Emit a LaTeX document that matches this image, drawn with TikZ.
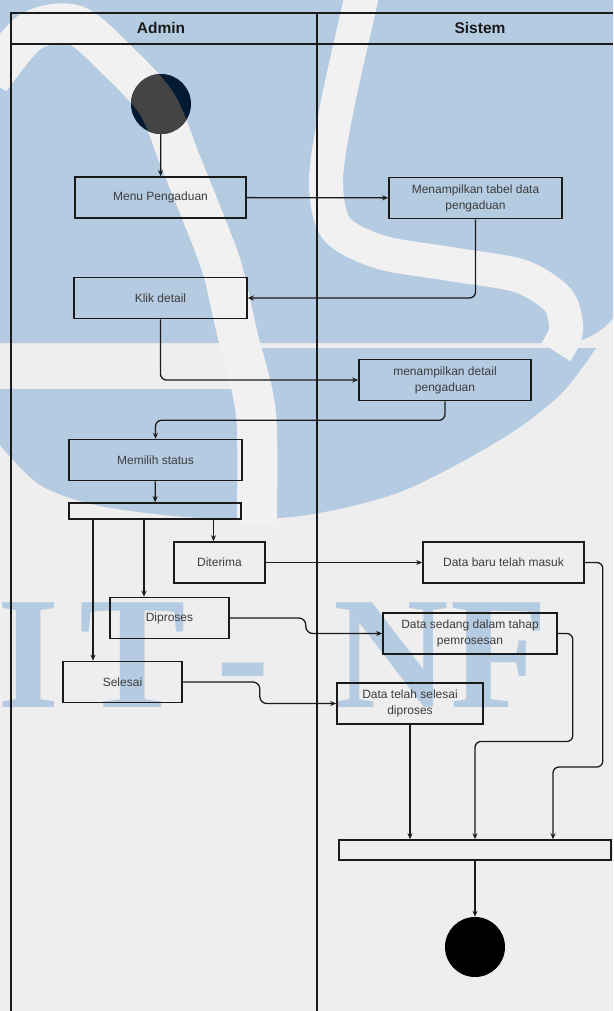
\documentclass[tikz,border=0pt]{standalone}
\usepackage{fontspec}
\setmainfont{Liberation Sans}
\newfontfamily\wmfont{Liberation Serif}
\usetikzlibrary{arrows.meta}
\definecolor{pagebg}{RGB}{238,238,238}
\definecolor{wmblue}{RGB}{181,203,225}
\definecolor{wmwhite}{RGB}{241,241,241}
\definecolor{ink}{RGB}{26,26,26}
\definecolor{navy}{RGB}{2,26,50}
\definecolor{dimgray}{RGB}{68,68,68}
\begin{document}
\begin{tikzpicture}[x=1pt,y=-1pt,
    act/.style={draw=ink,line width=1.6pt,minimum height=41pt,align=center,
        font=\fontsize{12}{16}\selectfont,text=ink!85},
    bar/.style={draw=ink,line width=1.6pt,inner sep=0pt},
    dot/.style={circle,fill=black,minimum size=60pt,inner sep=0pt},
    flow/.style={draw=ink,line width=1.3pt,rounded corners=6pt,-{Stealth[length=6pt,width=5pt]}},
    lane/.style={draw=ink,line width=1.6pt}]
    \useasboundingbox (0,0) rectangle (613,1011);
    \fill[pagebg] (0,0) rectangle (613,1011);
    % watermark
    \begin{scope}
        \clip (0,0) rectangle (613,1011);
        \fill[wmblue] (0,0) -- (613,0) -- (613,318) .. controls (600,335) and (580,343) .. (560,343) -- (0,343) -- cycle;
        \fill[wmblue] (0,389) -- (250,389) -- (250,348) -- (596,348)
            -- plot[smooth] coordinates {(596,348) (560,395) (500,440) (400,492) (300,516) (200,518) (100,506) (40,485) (0,445)} -- cycle;
        \draw[wmwhite,line width=40pt] plot[smooth] coordinates {(-10,80) (30,32) (75,25) (117,60) (157,104) (180,160) (212,240) (224,275) (238,337) (252,390) (257,430) (257,525)};
        \draw[wmwhite,line width=34pt] plot[smooth] coordinates {(362,-5) (337,107) (326,180) (336,228) (380,252) (450,264) (520,276) (558,300) (566,330) (556,352)};
        \node[anchor=base west,inner sep=0pt,text=wmblue,font=\wmfont\bfseries\fontsize{160}{160}\selectfont] (wmtext) at (-3,707)
            {I\kern20pt T\kern-10pt\ -\ \kern24pt N\kern2pt F};
    \end{scope}
    % swimlanes
    \draw[lane] (613,13) -- (11,13) -- (11,1011);
    \draw[lane] (11,44) -- (613,44);
    \draw[lane] (317,13) -- (317,1011);
    \node[font=\fontsize{15.5}{18}\selectfont\bfseries,text=ink] (hadmin) at (161,28) {Admin};
    \node[font=\fontsize{15.5}{18}\selectfont\bfseries,text=ink] (hsistem) at (480,28) {Sistem};
    % activities
    \node[dot,fill=navy] (start) at (161,104) {};
    \begin{scope}
        \clip (start.center) circle (30);
        \draw[dimgray,line width=40pt] plot[smooth] coordinates {(75,25) (117,60) (157,104) (180,160) (212,240)};
    \end{scope}
    \node[act,minimum width=171pt] (menu) at (160.5,197.5) {Menu Pengaduan};
    \node[act,minimum width=173pt] (tabel) at (475.5,198) {Menampilkan tabel data\\pengaduan};
    \node[act,minimum width=173pt] (klik) at (160.5,298) {Klik detail};
    \node[act,minimum width=172pt] (detail) at (445,380) {menampilkan detail\\pengaduan};
    \node[act,minimum width=173pt] (memilih) at (155.5,460) {Memilih status};
    \node[bar,minimum width=172pt,minimum height=16pt] (fork) at (155,511) {};
    \node[act,minimum width=91pt] (diterima) at (219.5,562.5) {Diterima};
    \node[act,minimum width=119pt] (diproses) at (169.5,618) {Diproses};
    \node[act,minimum width=119pt] (selesai) at (122.5,682) {Selesai};
    \node[act,minimum width=161pt] (baru) at (503.5,562.5) {Data baru telah masuk};
    \node[act,minimum width=174pt] (sedang) at (470,633.5) {Data sedang dalam tahap\\pemrosesan};
    \node[act,minimum width=146pt] (telah) at (410,703.5) {Data telah selesai\\diproses};
    \node[bar,minimum width=272pt,minimum height=20pt] (join) at (475,850) {};
    \node[dot] (end) at (475,947) {};
    % flows
    \draw[flow] (start) -- (menu);
    \draw[flow] (menu) -- (tabel);
    \draw[flow] (tabel.south) |- (klik.east);
    \draw[flow] (klik.south) |- (detail.west);
    \draw[flow] (detail.south) -- ++(0,19) -| (memilih.north);
    \draw[flow] (memilih) -- (fork);
    \draw[flow] ([xshift=-6pt]diterima.north |- fork.south) -- ([xshift=-6pt]diterima.north);
    \draw[flow] ([xshift=-25.5pt]diproses.north |- fork.south) -- ([xshift=-25.5pt]diproses.north);
    \draw[flow] ([xshift=-29.5pt]selesai.north |- fork.south) -- ([xshift=-29.5pt]selesai.north);
    \draw[flow] (diterima) -- (baru);
    \draw[flow,rounded corners=7pt] (diproses.east) -- ++(76,0) |- (sedang.west);
    \draw[flow,rounded corners=7pt] (selesai.east) -- ++(77,0) |- (telah.west);
    \draw[flow] (baru.east) -- ++(18,0) -- ++(0,204.5) -| ([xshift=78pt]join.north);
    \draw[flow] (sedang.east) -- ++(15,0) -- ++(0,108) -| (join.north);
    \draw[flow] (telah.south) -- (telah.south |- join.north);
    \draw[flow] (join) -- (end);
\end{tikzpicture}
\end{document}
